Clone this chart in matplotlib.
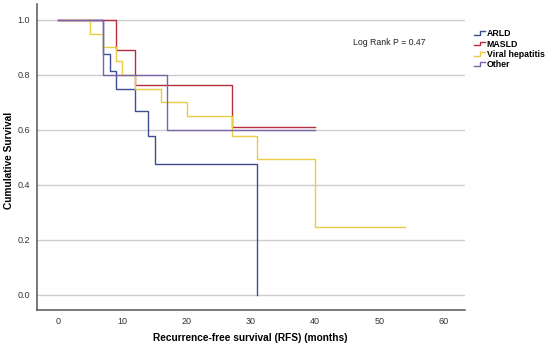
import matplotlib
matplotlib.use("Agg")
import matplotlib.pyplot as plt
from matplotlib.legend_handler import HandlerBase
from matplotlib.lines import Line2D

# Data
arld_t = [0, 7, 8, 9, 12, 14, 15, 31]
arld_s = [1.0, 0.875, 0.8125, 0.75, 0.667, 0.576, 0.477, 0.0]
masld_t = [0, 9, 12, 27, 40]
masld_s = [1.0, 0.889, 0.762, 0.610, 0.610]
viral_t = [0, 5, 7, 9, 10, 12, 16, 20, 27, 31, 40, 54]
viral_s = [1.0, 0.95, 0.90, 0.85, 0.80, 0.75, 0.70, 0.65, 0.576, 0.494, 0.247, 0.247]
other_t = [0, 7, 17, 40]
other_s = [1.0, 0.80, 0.60, 0.60]
labels = ["ARLD", "MASLD", "Viral hepatitis", "Other"]
colors = ["#3d4e93", "#b3303f", "#e9cb45", "#7b63a9"]
xticks = [0, 10, 20, 30, 40, 50, 60]
yticks = [0.0, 0.2, 0.4, 0.6, 0.8, 1.0]

plt.rcParams['font.family'] = ['Liberation Sans', 'DejaVu Sans']

fig = plt.figure(figsize=(5.5, 3.46), dpi=100)
ax = fig.add_axes([37/550, 1 - 310/346, (465-37)/550, (310-4)/346])

for t, s, c, lab in zip([arld_t, masld_t, viral_t, other_t],
                        [arld_s, masld_s, viral_s, other_s], colors, labels):
    ax.step(t, s, where='post', color=c, lw=1.0, label=lab)

ax.set_xlim(-3.3, 63.3)
ax.set_ylim(-0.056, 1.058)
ax.set_xticks(xticks)
ax.set_yticks(yticks)
ax.set_yticklabels([f"{v:.1f}" for v in yticks])
ax.tick_params(length=0, labelsize=6.5, colors="#333333", pad=5)
ax.grid(axis='y', color="#cccccc", lw=1.0)
ax.set_axisbelow(True)
for sp in ['top', 'right']:
    ax.spines[sp].set_visible(False)
for sp in ['left', 'bottom']:
    ax.spines[sp].set_color("#555555")
    ax.spines[sp].set_linewidth(1.1)

ax.set_xlabel("Recurrence-free survival (RFS) (months)", fontsize=7.3,
              fontweight='bold')
ax.set_ylabel("Cumulative Survival", fontsize=7.3, fontweight='bold')
ax.xaxis.set_label_coords((250-37)/428, (310-338)/306)
ax.yaxis.set_label_coords((9-37)/428, (310-160)/306)
ax.xaxis.label.set_va('center')
ax.yaxis.label.set_va('center')

ax.text(45.9, 0.917, "Log Rank P = 0.47", fontsize=6.3, va='center', ha='left',
        color="#222222")


class StepHandler(HandlerBase):
    def create_artists(self, legend, orig_handle, xdescent, ydescent, width,
                       height, fontsize, trans):
        x0 = -xdescent
        y0 = -ydescent
        xs = [x0, x0 + width*0.5, x0 + width*0.5, x0 + width]
        ys = [y0 + height*0.2, y0 + height*0.2, y0 + height*0.8, y0 + height*0.8]
        ln = Line2D(xs, ys, color=orig_handle.get_color(), lw=1.0,
                    transform=trans)
        return [ln]


handles, labs = ax.get_legend_handles_labels()
leg = fig.legend(handles, labs, loc='upper left',
                 bbox_to_anchor=(470/550, 1 - 25/346),
                 frameon=False, handlelength=1.2,
                 handletextpad=0.2, labelspacing=0.15, borderpad=0,
                 handler_map={Line2D: StepHandler()},
                 prop={'weight': 'bold', 'size': 6.3})

fig.savefig("out.png", dpi=100)
